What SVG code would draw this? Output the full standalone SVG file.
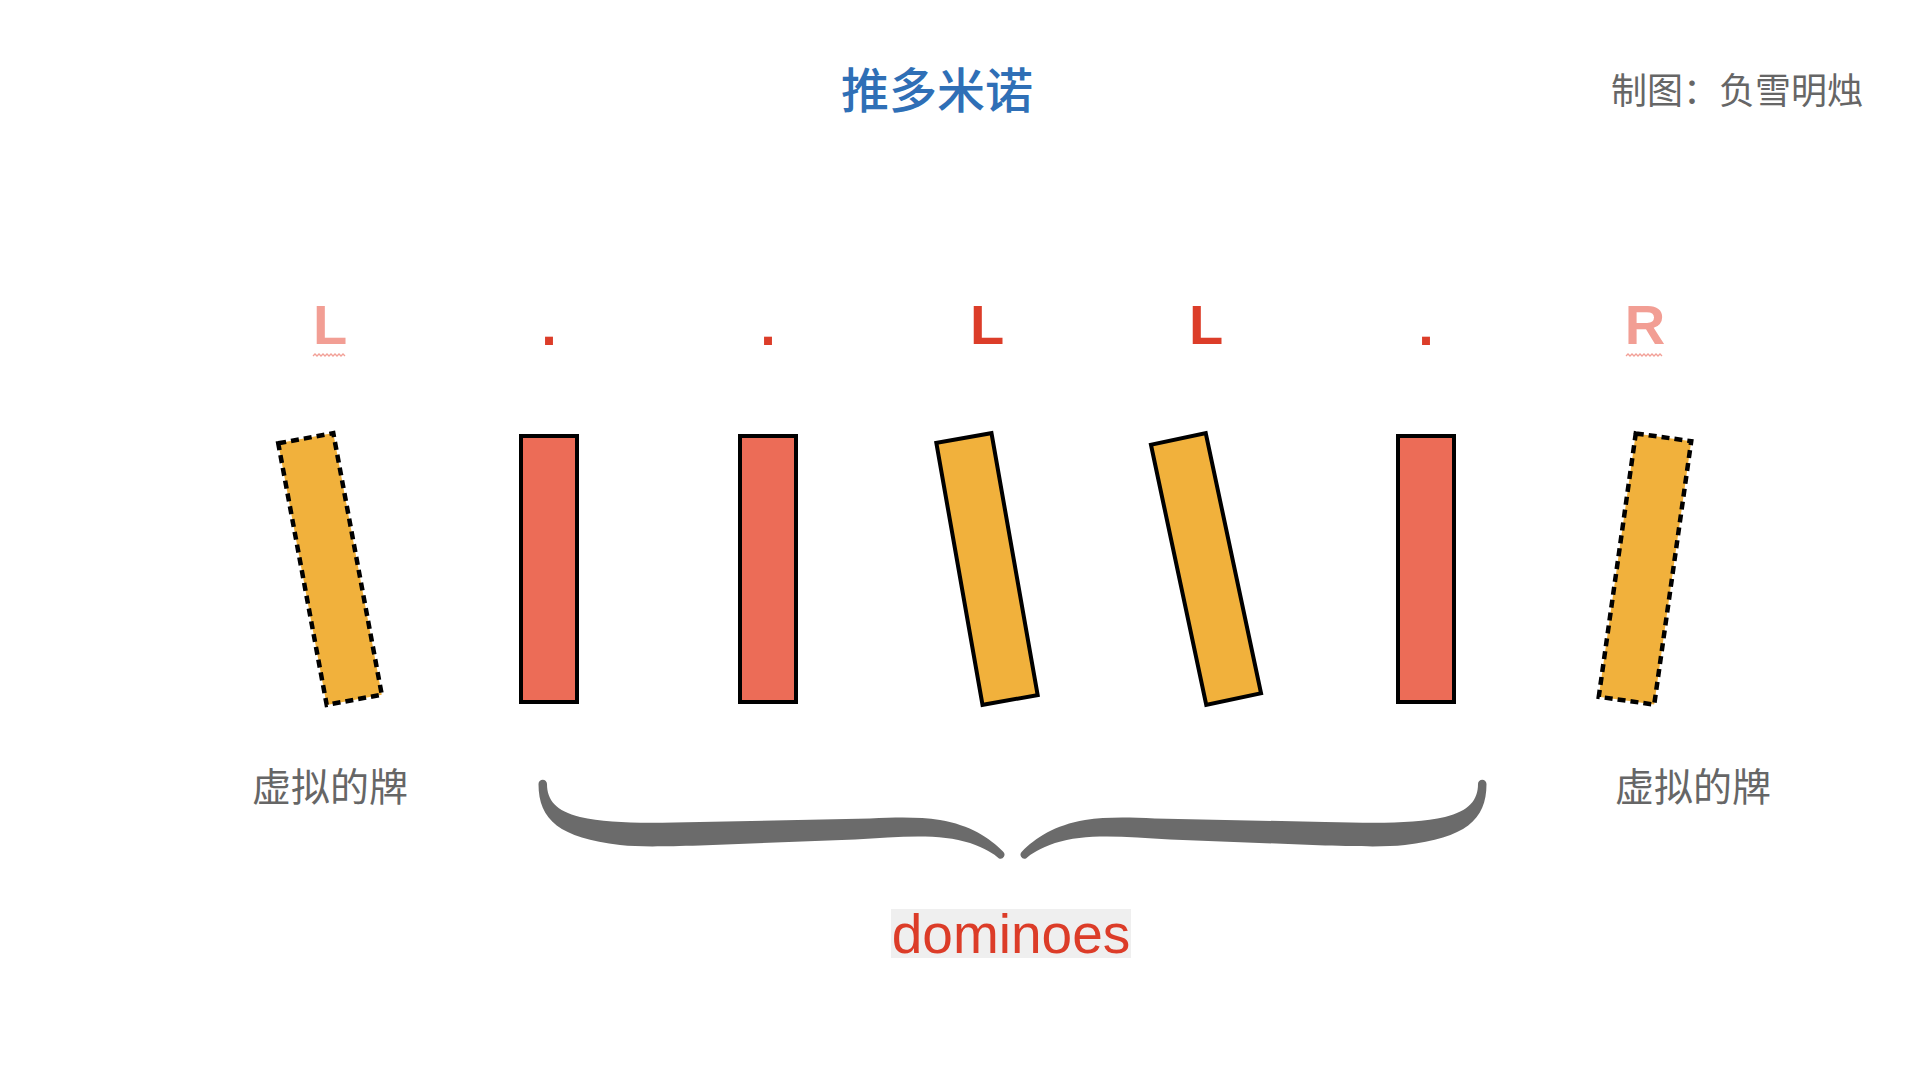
<svg xmlns="http://www.w3.org/2000/svg" width="1920" height="1080" viewBox="0 0 1920 1080">
<style>
.cjk{font-family:"Noto Sans CJK SC","Noto Sans",sans-serif}
.gray{fill:#666666}
.lbl{font-family:"Liberation Sans",Arial,sans-serif;font-weight:bold;font-size:56px;text-anchor:middle}
.faded{fill:#f29e94}
.solid{fill:#dc3d29}
.red{fill:#ec6c57;stroke:#000;stroke-width:4}
.yel{fill:#f1b13c;stroke:#000;stroke-width:4}
.dash{fill:#f1b13c;stroke:#000;stroke-width:4.5;stroke-dasharray:8 5}
.sq{fill:none;stroke:#f2a097;stroke-width:1.3}
.brace{fill:#6b6b6b}
</style>
<defs>
<rect id="dom" x="-28" y="-133" width="56" height="266"/>
</defs>
<rect width="1920" height="1080" fill="#ffffff"/>
<g id="title"><text class="cjk" x="937" y="108" font-size="48" font-weight="500" fill="#2f6fb6" text-anchor="middle">推多米诺</text></g>
<g id="author"><text class="cjk gray" x="1611" y="104" font-size="36">制图：负雪明烛</text></g>

<g id="labels">
<text class="lbl faded" x="330" y="344">L</text>
<path class="sq" d="M313 356 l2 -2 l2 2 l2 -2 l2 2 l2 -2 l2 2 l2 -2 l2 2 l2 -2 l2 2 l2 -2 l2 2 l2 -2 l2 2 l2 -2 l2 2"/>
<text class="lbl solid" x="549" y="345">.</text>
<text class="lbl solid" x="768" y="345">.</text>
<text class="lbl solid" x="987" y="344">L</text>
<text class="lbl solid" x="1206" y="344">L</text>
<text class="lbl solid" x="1426" y="345">.</text>
<text class="lbl faded" x="1645" y="344">R</text>
<path class="sq" d="M1626 356 l2 -2 l2 2 l2 -2 l2 2 l2 -2 l2 2 l2 -2 l2 2 l2 -2 l2 2 l2 -2 l2 2 l2 -2 l2 2 l2 -2 l2 2 l2 -2 l2 2"/>
</g>

<g id="domino-0"><use href="#dom" class="dash" transform="translate(330 569) rotate(-10.5)"/></g>
<g id="domino-1"><use href="#dom" class="red" transform="translate(549 569)"/></g>
<g id="domino-2"><use href="#dom" class="red" transform="translate(768 569)"/></g>
<g id="domino-3"><use href="#dom" class="yel" transform="translate(987 569) rotate(-10)"/></g>
<g id="domino-4"><use href="#dom" class="yel" transform="translate(1206 569) rotate(-12)"/></g>
<g id="domino-5"><use href="#dom" class="red" transform="translate(1426 569)"/></g>
<g id="domino-6"><use href="#dom" class="dash" transform="translate(1645 569) rotate(8)"/></g>

<g id="virtual-left"><text class="cjk gray" x="330" y="801" font-size="39" text-anchor="middle">虚拟的牌</text></g>
<g id="virtual-right"><text class="cjk gray" x="1693" y="801" font-size="39" text-anchor="middle">虚拟的牌</text></g>

<g id="connectors">
<g id="brace">
<path id="brace-half" class="brace" d="M538.5 784 C538.5 820 560 838 620 845 C640 847 660 846.5 700 845.5 L855 839.5 C900 836.5 940 833 970 843 C985 848 994 854 999 858.4 A4 4 0 0 0 1003 851.6 C990 838 970 825 940 820 C920 817 900 817 870 818.5 L700 822 C650 823 610 824 580 817 C556 811 547 800 547 784 A4.25 4.25 0 0 0 538.5 784 Z"/>
<use href="#brace-half" transform="matrix(-1 0 0 1 2025 0)"/>
</g>
</g>

<g id="dominoes-label">
<rect x="891" y="909" width="240" height="49" fill="#efefef"/>
<text x="1011" y="953" font-family="Liberation Sans, Arial, sans-serif" font-size="55" fill="#dc3c28" text-anchor="middle">dominoes</text>
</g>
</svg>
